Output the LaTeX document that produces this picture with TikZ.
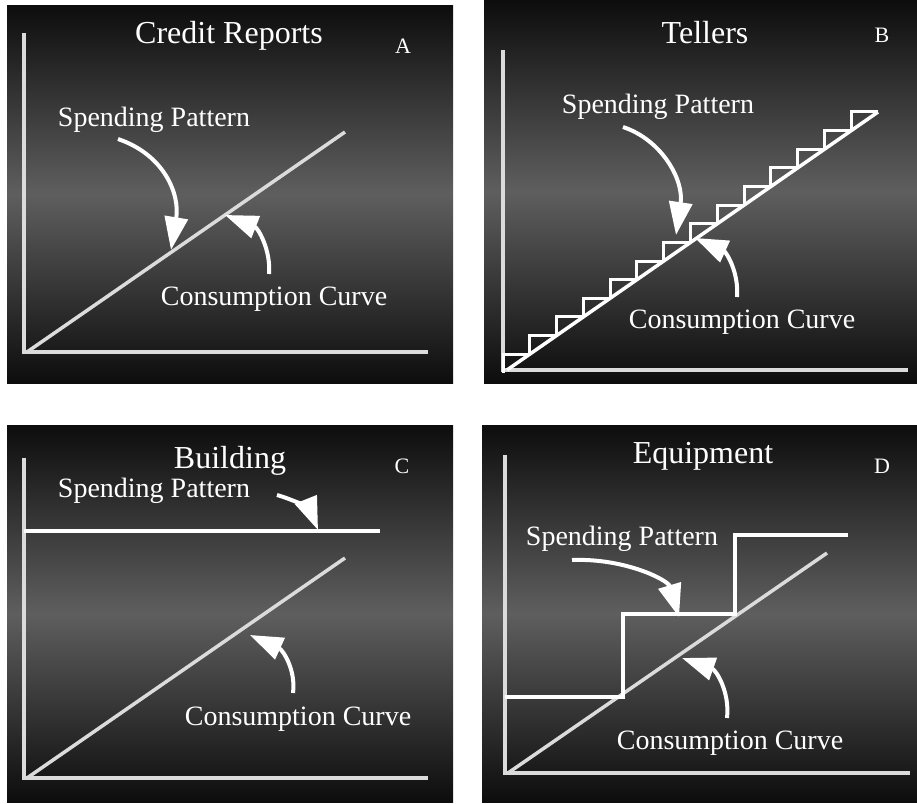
\documentclass[tikz,border=0pt]{standalone}
\usepackage{fontspec}
\setmainfont{Liberation Serif}
\usetikzlibrary{arrows.meta}
\definecolor{bgdark}{gray}{0.05}
\definecolor{bgmid}{gray}{0.37}
\definecolor{axisgray}{gray}{0.86}
\tikzset{
  panel/.style={top color=bgdark, bottom color=bgdark, middle color=bgmid},
  axisline/.style={draw=axisgray, line width=4pt},
  consum/.style={draw=axisgray, line width=3.5pt},
  spend/.style={draw=white, line width=4pt},
  arr/.style={draw=white, line width=4pt, -{Triangle[length=33pt,width=23pt]}},
  ttl/.style={text=white, anchor=base, font=\fontsize{32}{36}\selectfont},
  lbl/.style={text=white, anchor=base, font=\fontsize{28}{32}\selectfont},
  letter/.style={text=white, anchor=base, font=\fontsize{22}{26}\selectfont},
}
\begin{document}
\begin{tikzpicture}[x=1pt, y=-1pt]
  \useasboundingbox (0,0) rectangle (917,803);
  \fill[white] (0,0) rectangle (917,803);

  \shade[panel] (7,5) rectangle (453,383);
  \shade[panel] (484,0) rectangle (917,383);
  \shade[panel] (7,425) rectangle (453,802);
  \shade[panel] (482,425) rectangle (917,802);

  \draw[axisline] (24,33) -- (24,352) -- (428,352);
  \draw[consum] (27,352) -- (345,132);
  \node[ttl] (titleA) at (229,43) {Credit Reports};
  \node[letter] (tagA) at (403,53) {A};
  \node[lbl] (spA) at (154,126) {Spending Pattern};
  \node[lbl] (ccA) at (274,305) {Consumption Curve};
  \coordinate (spAtail) at (118,139);
  \coordinate (spAtip) at (171,250);
  \coordinate (ccAtail) at (269,274);
  \coordinate (ccAtip) at (225,215);
  \draw[arr] (spAtail) .. controls (165,155) and (180,195) .. (spAtip);
  \draw[arr] (ccAtail) .. controls (271,250) and (258,228) .. (ccAtip);

  \draw[axisline] (503,50) -- (503,370) -- (908,370);
  \draw[spend, line width=3.5pt] (507,370) -- (878,112);
  \foreach \k in {0,...,13}
    \draw[spend, line width=3pt] ({503+\k*26.786},{372.8-\k*18.63}) |- ({503+(\k+1)*26.786},{372.8-(\k+1)*18.63});
  \node[ttl] (titleB) at (705,43) {Tellers};
  \node[letter] (tagB) at (882,42) {B};
  \node[lbl] (spB) at (658,113) {Spending Pattern};
  \node[lbl] (ccB) at (742,328) {Consumption Curve};
  \coordinate (spBtail) at (623,127);
  \coordinate (spBtip) at (676,235);
  \coordinate (ccBtail) at (737,297);
  \coordinate (ccBtip) at (695,238);
  \draw[arr] (spBtail) .. controls (662,140) and (684,180) .. (spBtip);
  \draw[arr] (ccBtail) .. controls (739,272) and (726,252) .. (ccBtip);

  \draw[axisline] (24,458) -- (24,778) -- (428,778);
  \draw[consum] (27,778) -- (345,558);
  \draw[spend] (24,531) -- (380,531);
  \node[ttl] (titleC) at (230,468) {Building};
  \node[letter] (tagC) at (402,473) {C};
  \node[lbl] (spC) at (154,497) {Spending Pattern};
  \node[lbl] (ccC) at (298,725) {Consumption Curve};
  \coordinate (spCtail) at (277,495);
  \coordinate (spCtip) at (318,530);
  \coordinate (ccCtail) at (293,693);
  \coordinate (ccCtip) at (250,635);
  \draw[arr] (spCtail) .. controls (295,500) and (310,510) .. (spCtip);
  \draw[arr] (ccCtail) .. controls (296,670) and (283,650) .. (ccCtip);

  \draw[axisline] (505,455) -- (505,773) -- (910,773);
  \draw[consum] (508,773) -- (827,553);
  \draw[spend] (505,697) -- (623,697) -- (623,614) -- (735,614) -- (735,535) -- (848,535);
  \node[ttl] (titleD) at (703,463) {Equipment};
  \node[letter] (tagD) at (882,473) {D};
  \node[lbl] (spD) at (622,545) {Spending Pattern};
  \node[lbl] (ccD) at (730,749) {Consumption Curve};
  \coordinate (spDtail) at (572,560);
  \coordinate (spDtip) at (679,617);
  \coordinate (ccDtail) at (727,718);
  \coordinate (ccDtip) at (682,658);
  \draw[arr] (spDtail) .. controls (625,558) and (668,580) .. (spDtip);
  \draw[arr] (ccDtail) .. controls (730,692) and (716,670) .. (ccDtip);
\end{tikzpicture}
\end{document}
